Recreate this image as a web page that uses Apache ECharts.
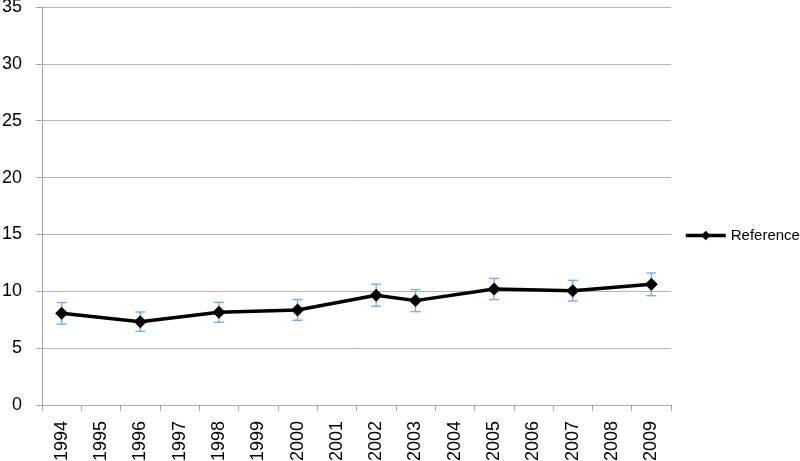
<!DOCTYPE html>
<html>
<head>
<meta charset="utf-8">
<script src="https://cdn.jsdelivr.net/npm/echarts@6/dist/echarts.min.js"></script>
<style>
  html, body { margin: 0; padding: 0; background: #fff; }
  #chart { width: 800px; height: 461px; }
</style>
</head>
<body>
<div id="chart"></div>
<script>
// x axis years
var years = ['1994','1995','1996','1997','1998','1999','2000','2001',
             '2002','2003','2004','2005','2006','2007','2008','2009'];
// years that have a measurement
var pointYears = ['1994','1996','1998','2000','2002','2003','2005','2007','2009'];
var means = [8.06, 7.33, 8.15, 8.36, 9.65, 9.18, 10.2, 10.05, 10.61];
var errs  = [0.95, 0.85, 0.88, 0.91, 0.97, 0.97, 0.93, 0.91, 1.0];

var chart = echarts.init(document.getElementById('chart'));

var lineData = [], errData = [];
for (var i = 0; i < pointYears.length; i++) {
    lineData.push([pointYears[i], means[i]]);
    errData.push([pointYears[i], means[i] - errs[i], means[i] + errs[i]]);
}

// draw error bar with caps
function renderErr(params, api) {
    var lo = api.coord([api.value(0), api.value(1)]);
    var hi = api.coord([api.value(0), api.value(2)]);
    var cap = 5;
    var st = { stroke: '#7aaedf', lineWidth: 1.4 };
    return {
        type: 'group',
        children: [
            { type: 'line', shape: { x1: lo[0], y1: lo[1], x2: hi[0], y2: hi[1] }, style: st },
            { type: 'line', shape: { x1: hi[0] - cap, y1: hi[1], x2: hi[0] + cap, y2: hi[1] }, style: st },
            { type: 'line', shape: { x1: lo[0] - cap, y1: lo[1], x2: lo[0] + cap, y2: lo[1] }, style: st }
        ]
    };
}

var font = 'Liberation Sans, Arial, sans-serif';

chart.setOption({
    animation: false,
    textStyle: { fontFamily: font },
    grid: { left: 42, right: 129, top: 7, bottom: 56, outerBoundsMode: 'none', containLabel: false },
    legend: {
        data: ['Reference'],
        left: 684,
        top: 228,
        padding: 0,
        itemWidth: 40,
        itemHeight: 12,
        lineStyle: { width: 3.5, color: '#000' },
        itemStyle: { color: '#000' },
        textStyle: { fontSize: 15, color: '#000', fontFamily: font }
    },
    xAxis: {
        type: 'category',
        data: years,
        boundaryGap: true,
        axisLine: { lineStyle: { color: '#a6a6a6', width: 1 } },
        axisTick: { show: true, length: 6, lineStyle: { color: '#a6a6a6' } },
        axisLabel: { rotate: 90, fontSize: 18, color: '#000', margin: 16, interval: 0 },
        splitLine: { show: false }
    },
    yAxis: {
        type: 'value',
        min: 0,
        max: 35,
        interval: 5,
        axisLine: { show: true, lineStyle: { color: '#a6a6a6', width: 1 } },
        axisTick: { show: true, length: 6, lineStyle: { color: '#a6a6a6' } },
        axisLabel: { fontSize: 18, color: '#000', margin: 20 },
        splitLine: { lineStyle: { color: '#b3b3b3', width: 1 } }
    },
    series: [
        {
            name: 'err',
            type: 'custom',
            renderItem: renderErr,
            data: errData,
            z: 1
        },
        {
            name: 'Reference',
            type: 'line',
            data: lineData,
            symbol: 'diamond',
            symbolSize: 13,
            connectNulls: true,
            lineStyle: { color: '#000', width: 3.5 },
            itemStyle: { color: '#000' },
            z: 3
        }
    ]
});
</script>
</body>
</html>
